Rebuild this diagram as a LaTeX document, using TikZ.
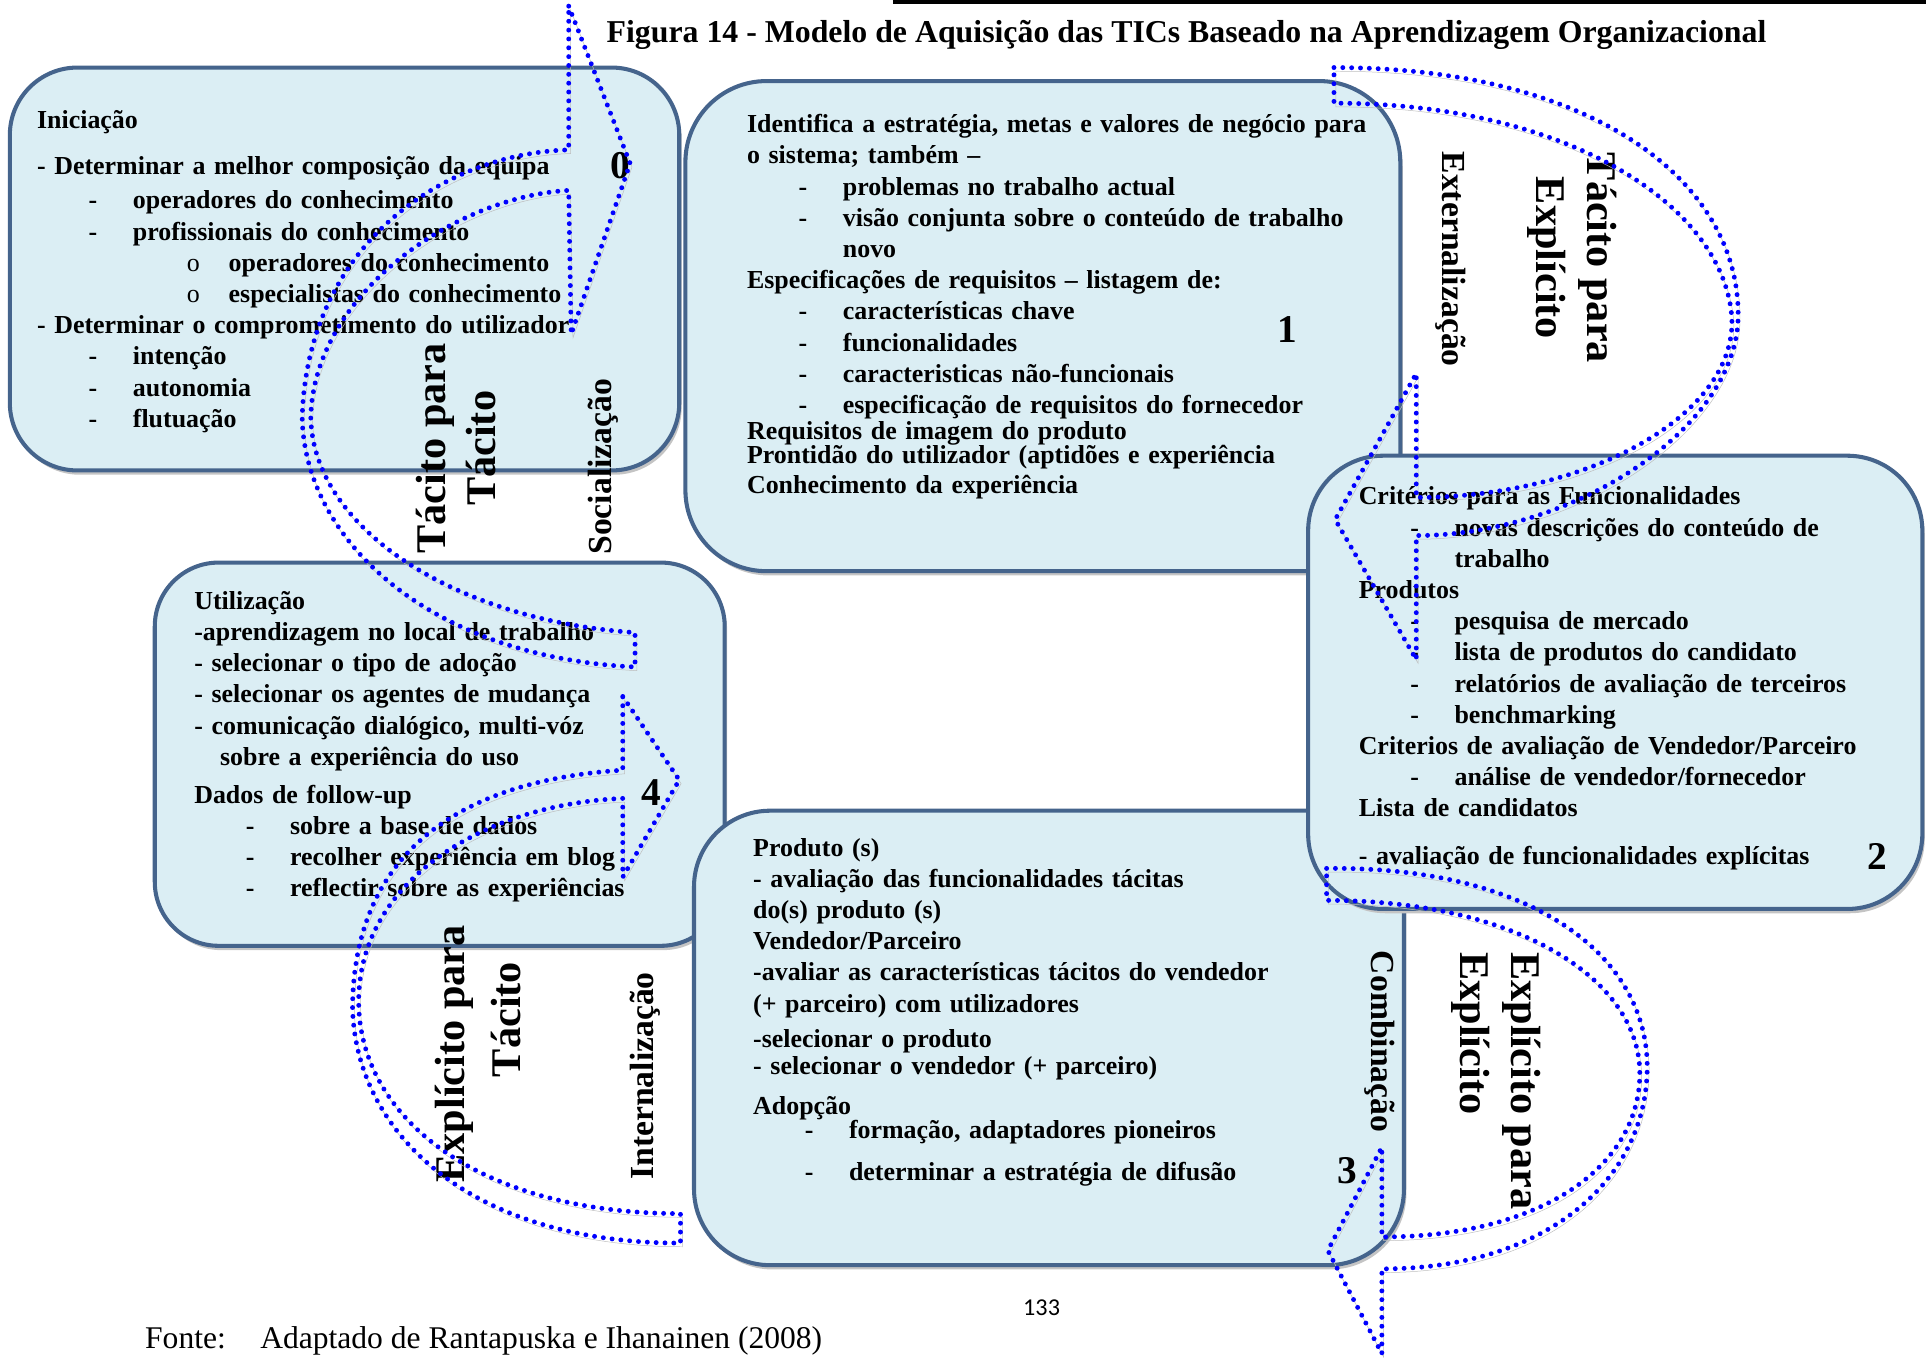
\documentclass[tikz,border=0pt]{standalone}
\usepackage{fontspec}
\usepackage{tikz}
\usepackage{xcolor}
\setmainfont{Liberation Serif}
\newfontfamily\pagefont{Carlito}

\definecolor{boxfill}{RGB}{219,238,244}
\definecolor{boxedge}{RGB}{69,100,140}
\definecolor{boxshade}{RGB}{196,196,196}
\definecolor{dotblue}{RGB}{0,0,255}
\definecolor{dotshade}{RGB}{190,190,190}

\newcommand{\dashitem}[1]{\hspace*{42pt}\makebox[36pt][l]{-}#1}
\newcommand{\circitem}[1]{\hspace*{122pt}\makebox[34pt][l]{\mdseries o}#1}

\tikzset{
  stagebox/.style={draw=boxedge, line width=3.3pt, fill=boxfill},
  stagetext/.style={anchor=base west, inner sep=0pt, align=left, font=\bfseries\fontsize{21.1}{25.4}\selectfont},
  stagenum/.style={inner sep=0pt, font=\bfseries\fontsize{32}{38}\selectfont},
  phase/.style={inner sep=0pt, font=\bfseries\fontsize{27.4}{32}\selectfont},
  mode/.style={inner sep=0pt, align=center, font=\bfseries\fontsize{34.4}{41}\selectfont},
  dots/.style={draw=dotblue, line width=4pt, line cap=round, dash pattern=on 0pt off 7.2pt,
    preaction={draw=dotshade, transform canvas={shift={(1.5pt,-3pt)}}}}
}

\begin{document}
\begin{tikzpicture}[x=1pt, y=-1pt]
\useasboundingbox (0,0) rectangle (1568,1105);
\clip (0,0) rectangle (1568,1105);

\draw[line width=3pt] (727,1.5) -- (1568,1.5);
\node[anchor=base, inner sep=0pt, font=\bfseries\fontsize{25.9}{30}\selectfont] (title) at (966,35)
  {Figura 14 - Modelo de Aquisição das TICs Baseado na Aprendizagem Organizacional};

\foreach \l/\t/\r/\b/\rad in {8/55/553/383/55, 558/66/1140/465/66, 126/458/590/770/52,
    565/660/1143/1030/62, 1065/371/1565/740/61} {
  \fill[boxshade, rounded corners=\rad pt] (\l+2,\t+3.5) rectangle (\r+2,\b+3.5);
  \draw[stagebox, rounded corners=\rad pt] (\l,\t) rectangle (\r,\b);
}

\node[stagetext, text width=480pt] (init) at (30,105) {Iniciação\\[11.6pt]
- Determinar a melhor composição da equipa\\[2.6pt]
\dashitem{operadores do conhecimento}\\
\dashitem{profissionais do conhecimento}\\
\circitem{operadores do conhecimento}\\
\circitem{especialistas do conhecimento}\\
- Determinar o comprometimento do utilizador\\
\dashitem{intenção}\\
\dashitem{autonomia}\\
\dashitem{flutuação}};

\node[stagetext, text width=530pt] (ident) at (608,108) {Identifica a estratégia, metas e valores de negócio para\\
o sistema; também –\\
\dashitem{problemas no trabalho actual}\\
\dashitem{visão conjunta sobre o conteúdo de trabalho}\\
\hspace*{78pt}novo\\
Especificações de requisitos – listagem de:\\
\dashitem{características chave}\\
\dashitem{funcionalidades}\\
\dashitem{caracteristicas não-funcionais}\\
\dashitem{especificação de requisitos do fornecedor}\\[-4.4pt]
Requisitos de imagem do produto\\[-5.4pt]
Prontidão do utilizador (aptidões e experiência\\[-1.4pt]
Conhecimento da experiência};

\node[stagetext, text width=450pt] (crit) at (1106,411) {Critérios para as Funcionalidades\\
\dashitem{novas descrições do conteúdo de}\\
\hspace*{78pt}trabalho\\
Produtos\\
\dashitem{pesquisa de mercado}\\
\dashitem{lista de produtos do candidato}\\
\dashitem{relatórios de avaliação de terceiros}\\
\dashitem{benchmarking}\\
Criterios de avaliação de Vendedor/Parceiro\\
\dashitem{análise de vendedor/fornecedor}\\
Lista de candidatos\\[13.6pt]
- avaliação de funcionalidades explícitas};

\node[stagetext, text width=420pt] (util) at (158,496) {Utilização\\
-aprendizagem no local de trabalho\\
- selecionar o tipo de adoção\\
- selecionar os agentes de mudança\\
- comunicação dialógico, multi-vóz\\
\hspace*{21pt}sobre a experiência do uso\\[5.6pt]
Dados de follow-up\\
\dashitem{sobre a base de dados}\\
\dashitem{recolher experiência em blog}\\
\dashitem{reflectir sobre as experiências}};

\node[stagetext, text width=500pt] (prod) at (613,697) {Produto (s)\\
- avaliação das funcionalidades tácitas\\
do(s) produto (s)\\
Vendedor/Parceiro\\
-avaliar as características tácitos do vendedor\\
(+ parceiro) com utilizadores\\[3.6pt]
-selecionar o produto\\[-3.4pt]
- selecionar o vendedor (+ parceiro)\\[6.6pt]
Adopção\\[-5.4pt]
\dashitem{formação, adaptadores pioneiros}\\[8.6pt]
\dashitem{determinar a estratégia de difusão}};

\node[stagenum] (n0) at (505,135) {0};
\node[stagenum] (n1) at (1048,268) {1};
\node[stagenum] (n2) at (1528,697) {2};
\node[stagenum] (n3) at (1097,953) {3};
\node[stagenum] (n4) at (530,645) {4};

\node[mode, rotate=90] (tt) at (371,365) {Tácito para\\Tácito};
\node[phase, rotate=90] (soc) at (491,380) {Socialização};
\node[phase, rotate=-90] (ext) at (1181,211) {Externalização};
\node[mode, rotate=-90] (te) at (1280,210) {Tácito para\\Explícito};
\node[phase, rotate=-90] (comb) at (1123,848) {Combinação};
\node[mode, rotate=-90, align=left] (ee) at (1218,880) {Explícito para\\Explícito};
\node[mode, rotate=90] (et) at (370,858) {Explícito para};
\node[mode, rotate=90] (et2) at (412,830) {Tácito};
\node[phase, rotate=90] (int) at (525,876) {Internalização};

\draw[dots] (463,5) -- (513,133) -- (465,272) -- (463,155)
  .. controls (370,160) and (255,240) .. (253,340)
  .. controls (255,430) and (370,505) .. (517,515) -- (517,543)
  .. controls (350,535) and (248,440) .. (246,340)
  .. controls (250,200) and (360,125) .. (463,122) -- cycle;
\draw[dots] (1086,55) .. controls (1300,55) and (1418,150) .. (1415,260)
  .. controls (1412,350) and (1280,436) .. (1153,436) -- (1153,537)
  -- (1087,423) -- (1153,304) -- (1153,405)
  .. controls (1290,405) and (1412,340) .. (1410,260)
  .. controls (1405,170) and (1280,84) .. (1086,84) -- cycle;
\draw[dots] (1080,707) .. controls (1250,705) and (1342,780) .. (1341,870)
  .. controls (1340,960) and (1260,1033) .. (1125,1033) -- (1125,1102)
  -- (1081,1018) -- (1125,934) -- (1125,1007)
  .. controls (1255,1007) and (1334,950) .. (1335,875)
  .. controls (1336,800) and (1240,733) .. (1080,733) -- cycle;
\draw[dots] (507,567) -- (553,635) -- (507,714) -- (507,650)
  .. controls (390,655) and (292,720) .. (292,815)
  .. controls (292,910) and (390,988) .. (554,988) -- (554,1012)
  .. controls (380,1012) and (289,920) .. (287,820)
  .. controls (288,690) and (380,635) .. (507,627) -- cycle;

\node[font=\pagefont\fontsize{19.7}{24}\selectfont, inner sep=0pt] (page) at (848,1065) {133};
\node[anchor=base west, inner sep=0pt, font=\fontsize{25.7}{30}\selectfont] (source) at (118,1098)
  {Fonte:\hspace{28pt}Adaptado de Rantapuska e Ihanainen (2008)};
\end{tikzpicture}
\end{document}
